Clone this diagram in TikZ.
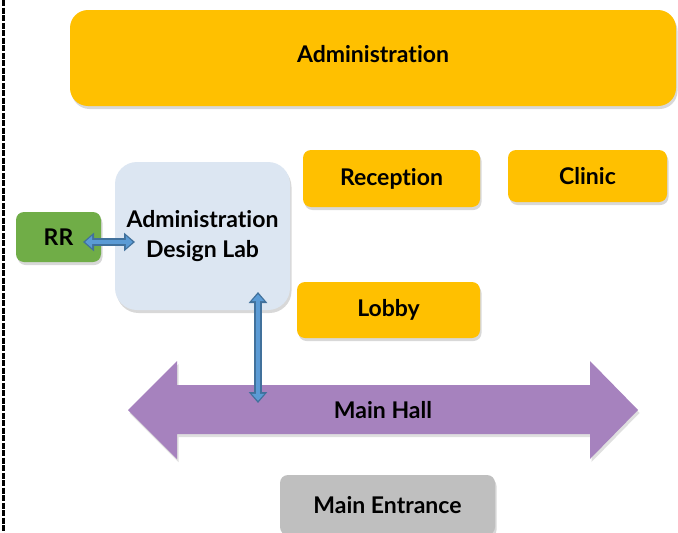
\documentclass[tikz,border=0pt]{standalone}
\usepackage{fontspec}
\setmainfont{Lato}[Ligatures=NoCommon]
\usetikzlibrary{positioning,arrows.meta,shadows}

\definecolor{roomorange}{HTML}{FFC000}
\definecolor{roomgreen}{HTML}{70AD47}
\definecolor{labblue}{HTML}{DCE6F2}
\definecolor{hallpurple}{HTML}{A682BE}
\definecolor{doorgray}{HTML}{BFBFBF}
\definecolor{linkdark}{HTML}{41719C}
\definecolor{linklight}{HTML}{5B9BD5}

\tikzset{
  room/.style={fill=roomorange, rounded corners=8pt, inner sep=0pt,
    font=\bfseries\fontsize{23}{30}\selectfont, align=center,
    drop shadow={opacity=0.3, shadow xshift=1.5pt, shadow yshift=-3pt}},
  link/.style={line width=7.5pt, draw=linkdark,
    {Triangle[length=11pt,width=18pt]}-{Triangle[length=11pt,width=18pt]}},
  linkin/.style={line width=4pt, draw=linklight, shorten <=2.2pt, shorten >=2.2pt,
    {Triangle[length=7pt,width=12pt]}-{Triangle[length=7pt,width=12pt]}}
}

\begin{document}
\begin{tikzpicture}[x=1pt, y=-1pt]
    \clip (0,0) rectangle (678,533);
    \fill[white] (0,0) rectangle (678,533);
    \draw[line width=3pt, dash pattern=on 6pt off 1.5pt] (3,0) -- (3,533);

    \node[room, minimum width=606, minimum height=96, rounded corners=18pt, text depth=9pt] (admin) at (373,58) {Administration};
    \node[room, minimum width=177, minimum height=57] (reception) at (391.5,178.5) {Reception};
    \node[room, minimum width=159, minimum height=52] (clinic) at (587.5,176) {Clinic};
    \node[room, fill=labblue, minimum width=175, minimum height=148, rounded corners=22pt] (lab) at (202.5,236) {Administration\\Design Lab};
    \node[room, fill=roomgreen, minimum width=85, minimum height=50] (rr) at (58.5,237) {RR};
    \node[room, minimum width=183, minimum height=56] (lobby) at (388.5,310) {Lobby};
    \node[room, fill=doorgray, minimum width=215, minimum height=60] (entrance) at (387.5,505) {Main Entrance};

    % Main Hall
    \fill[hallpurple, drop shadow={opacity=0.25, shadow xshift=1.5pt, shadow yshift=-3pt}]
      (128,410) -- (177,361) -- (177,385) -- (590,385) -- (590,361) -- (638,410)
      -- (590,459) -- (590,434) -- (177,434) -- (177,459) -- cycle;
    \node[font=\bfseries\fontsize{23}{30}\selectfont] (hall) at (383,410) {Main Hall};

    % Links
    \coordinate (rrend) at (83,242);
    \coordinate (labwest) at (135,242);
    \coordinate (labsouth) at (258,292);
    \coordinate (hallend) at (258,403);
    \draw[link] (rrend) -- (labwest);
    \draw[linkin] (rrend) -- (labwest);
    \draw[link] (labsouth) -- (hallend);
    \draw[linkin] (labsouth) -- (hallend);
\end{tikzpicture}
\end{document}
